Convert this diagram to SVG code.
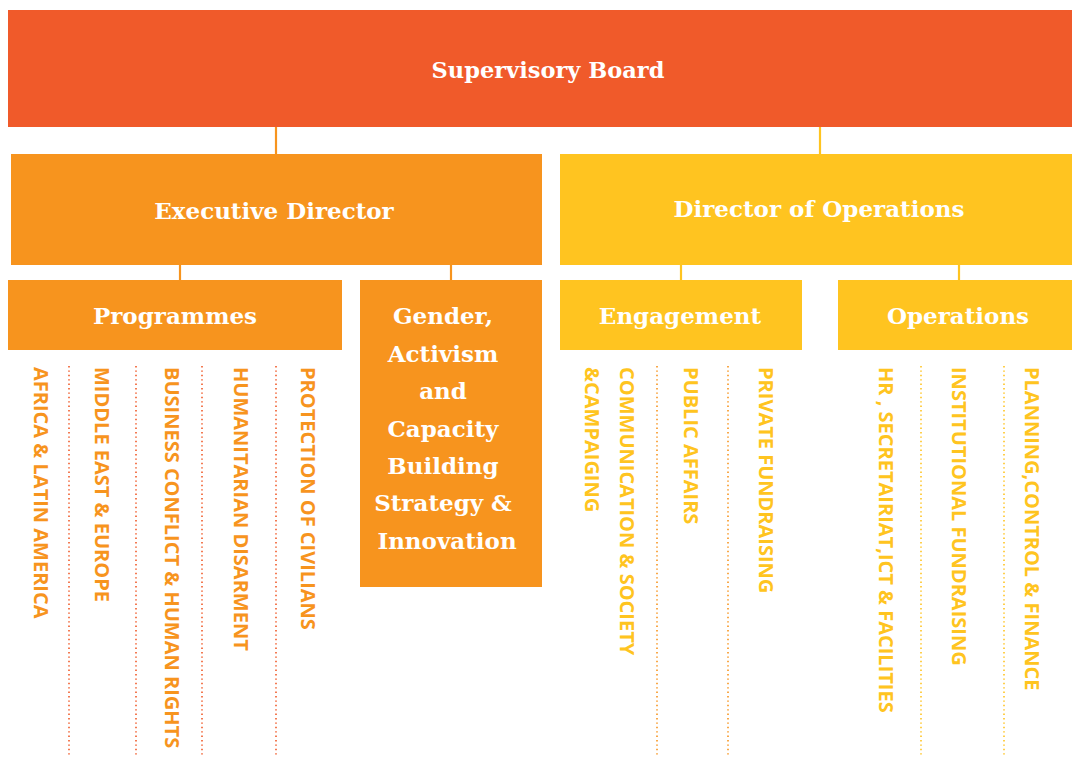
<svg xmlns="http://www.w3.org/2000/svg" width="1072" height="760" viewBox="0 0 1072 760">
<style>
.red{fill:#F05A2A}
.org{fill:#F7941E}
.yel{fill:#FFC420}
.h{font-family:"DejaVu Serif","Liberation Serif",serif;font-weight:bold;fill:#fff;text-anchor:middle;dominant-baseline:central;font-size:23px}
.v{font-family:"Open Sans","Noto Sans",sans-serif;font-weight:bold;font-size:20px;dominant-baseline:central}
.vo{fill:#F7941E}
.vy{fill:#FFC420}
.c{stroke-width:2.2;fill:none}
.dot{stroke-width:1.6;stroke-dasharray:1.4 3;fill:none}
</style>
<g id="connectors">
<line class="c" x1="276" y1="127" x2="276" y2="154" stroke="#F7941E"/>
<line class="c" x1="820" y1="127" x2="820" y2="154" stroke="#FFC420"/>
<line class="c" x1="180" y1="265" x2="180" y2="280" stroke="#F7941E"/>
<line class="c" x1="451" y1="265" x2="451" y2="280" stroke="#F7941E"/>
<line class="c" x1="681" y1="265" x2="681" y2="280" stroke="#FFC420"/>
<line class="c" x1="959" y1="265" x2="959" y2="280" stroke="#FFC420"/>
</g>
<g id="dividers">
<line class="dot" x1="69" y1="366" x2="69" y2="757" stroke="#F05A2A"/>
<line class="dot" x1="136" y1="366" x2="136" y2="757" stroke="#F05A2A"/>
<line class="dot" x1="202" y1="366" x2="202" y2="757" stroke="#F05A2A"/>
<line class="dot" x1="276" y1="366" x2="276" y2="757" stroke="#F05A2A"/>
<line class="dot" x1="657" y1="366" x2="657" y2="757" stroke="#F7941E"/>
<line class="dot" x1="728" y1="366" x2="728" y2="757" stroke="#F7941E"/>
<line class="dot" x1="921" y1="366" x2="921" y2="757" stroke="#FFC420"/>
<line class="dot" x1="1004" y1="366" x2="1004" y2="757" stroke="#FFC420"/>
</g>
<g id="supervisory-board">
<rect class="red" x="8" y="10" width="1064" height="117"/>
<text class="h" x="548" y="70" style="font-size:22.5px">Supervisory Board</text>
</g>
<g id="executive-director">
<rect class="org" x="11" y="154" width="531" height="111"/>
<text class="h" x="274" y="210">Executive Director</text>
</g>
<g id="director-of-operations">
<rect class="yel" x="560" y="154" width="512" height="111"/>
<text class="h" x="819" y="208">Director of Operations</text>
</g>
<g id="programmes">
<rect class="org" x="8" y="280" width="334" height="70"/>
<text class="h" x="175" y="315">Programmes</text>
</g>
<g id="gender">
<rect class="org" x="360" y="280" width="182" height="307"/>
<text class="h">
<tspan x="447" y="315">Gender,</tspan>
<tspan x="447" y="353">Activism</tspan>
<tspan x="447" y="390">and</tspan>
<tspan x="447" y="428">Capacity</tspan>
<tspan x="447" y="465">Building</tspan>
<tspan x="447" y="502">Strategy &amp;</tspan>
<tspan x="447" y="540">Innovation</tspan>
</text>
</g>
<g id="engagement">
<rect class="yel" x="560" y="280" width="242" height="70"/>
<text class="h" x="680" y="315">Engagement</text>
</g>
<g id="operations">
<rect class="yel" x="838" y="280" width="234" height="70"/>
<text class="h" x="958" y="315">Operations</text>
</g>
<g id="programme-units">
<text class="v vo" transform="translate(41,367) rotate(90)">AFRICA &amp; LATIN AMERICA</text>
<text class="v vo" transform="translate(102,367) rotate(90)">MIDDLE EAST &amp; EUROPE</text>
<text class="v vo" transform="translate(172,367) rotate(90)">BUSINESS CONFLICT &amp; HUMAN RIGHTS</text>
<text class="v vo" transform="translate(241,367) rotate(90)">HUMANITARIAN DISARMENT</text>
<text class="v vo" transform="translate(308,367) rotate(90)">PROTECTION OF CIVILIANS</text>
</g>
<g id="engagement-units">
<text class="v vy" transform="translate(627,367) rotate(90)">COMMUNICATION &amp; SOCIETY</text>
<text class="v vy" transform="translate(592,367) rotate(90)">&amp;CAMPAIGING</text>
<text class="v vy" transform="translate(691,367) rotate(90)">PUBLIC AFFAIRS</text>
<text class="v vy" transform="translate(766,367) rotate(90)">PRIVATE FUNDRAISING</text>
</g>
<g id="operations-units">
<text class="v vy" transform="translate(886,367) rotate(90)">HR , SECRETAIRIAT,ICT &amp; FACILITIES</text>
<text class="v vy" transform="translate(959,367) rotate(90)">INSTITUTIONAL FUNDRAISING</text>
<text class="v vy" transform="translate(1032,367) rotate(90)">PLANNING,CONTROL &amp; FINANCE</text>
</g>
</svg>
